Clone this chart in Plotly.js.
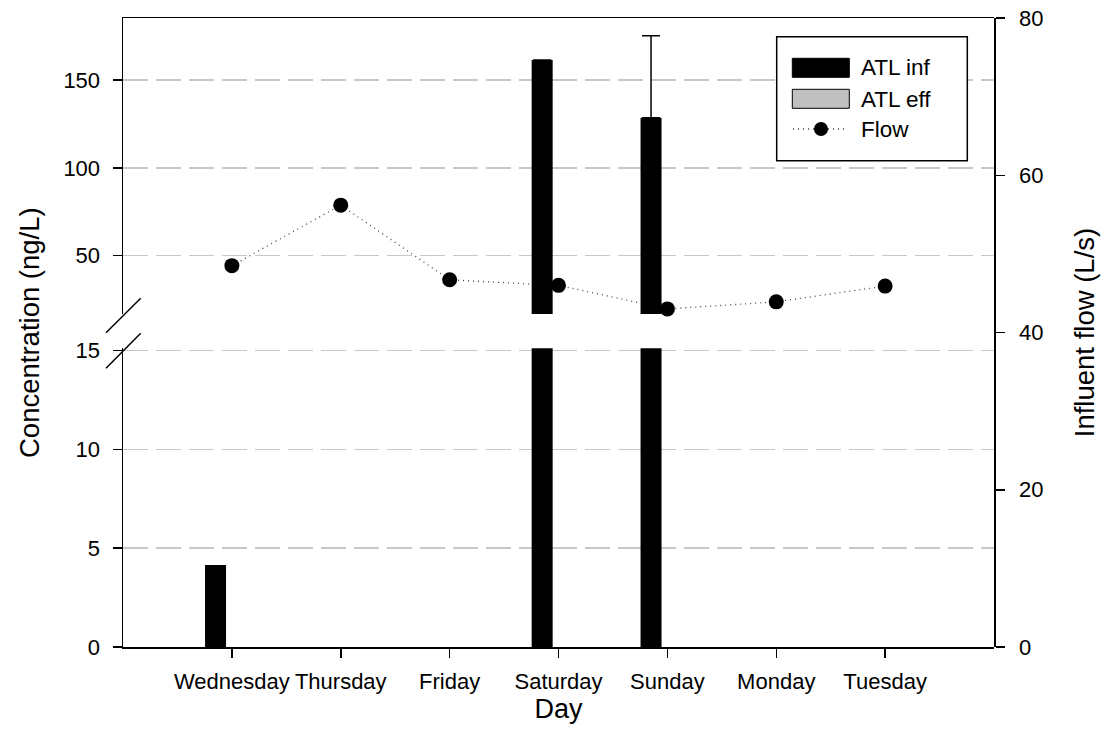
<!DOCTYPE html>
<html><head><meta charset="utf-8">
<script src="https://cdn.plot.ly/plotly-3.0.1.min.js"></script>
<style>html,body{margin:0;padding:0;background:#fff}#chart{width:1108px;height:751px}</style>
</head><body><div id="chart"></div>
<script>
// ---- data ----
const days = ['Wednesday','Thursday','Friday','Saturday','Sunday','Monday','Tuesday'];
const atlInf = [4.15, 0, 0, 161.4, 128.5, 0, 0];          // ng/L
const atlInfErr = [null, null, null, null, 46.7, null, null];
const atlEff = [0, 0, 0, 0, 0, 0, 0];                      // ng/L
const flow = [48.5, 56.2, 46.7, 46.0, 43.0, 43.9, 45.9];   // L/s
const seriesNames = ['ATL inf', 'ATL eff', 'Flow'];
const lowTicks = [0, 5, 10, 15];
const highTicks = [50, 100, 150];
const flowTicks = [0, 20, 40, 60, 80];

// ---- geometry helpers (styling only) ----
const W = 1108, H = 751, M = {l: 123, r: 114, t: 18, b: 104};
const PW = W - M.l - M.r, PH = H - M.t - M.b;
function px(X, Y) { return [(X - M.l) / PW, (H - M.b - Y) / PH]; }

const FONT = 'Liberation Sans, Arial, Helvetica, sans-serif';
const INF_COLOR = '#000000', EFF_COLOR = '#c0c0c0';
const gridStyle = {showgrid: true, gridcolor: '#c8c8c8', gridwidth: 1.5, griddash: '25px,8px'};
const leftAxisStyle = Object.assign({
  showline: true, linecolor: '#000', linewidth: 1.5,
  ticks: 'outside', ticklen: 9, tickwidth: 1.5, tickcolor: '#000',
  tickfont: {size: 22}, ticklabelstandoff: 8, zeroline: false, fixedrange: true
}, gridStyle);

const traces = [
  {type: 'bar', name: seriesNames[0], x: days, y: atlInf, xaxis: 'x', yaxis: 'y',
   marker: {color: INF_COLOR, line: {width: 0}}, showlegend: false, hoverinfo: 'skip'},
  {type: 'bar', name: seriesNames[1], x: days, y: atlEff, xaxis: 'x', yaxis: 'y',
   marker: {color: EFF_COLOR, line: {width: 0}}, showlegend: false, hoverinfo: 'skip'},
  {type: 'bar', name: seriesNames[0], x: days, y: atlInf, xaxis: 'x2', yaxis: 'y2',
   marker: {color: INF_COLOR, line: {width: 0}}, showlegend: false, hoverinfo: 'skip',
   error_y: {type: 'data', symmetric: false, array: atlInfErr, color: '#000', thickness: 1.5, width: 9}},
  {type: 'bar', name: seriesNames[1], x: days, y: atlEff, xaxis: 'x2', yaxis: 'y2',
   marker: {color: EFF_COLOR, line: {width: 0}}, showlegend: false, hoverinfo: 'skip'},
  {type: 'scatter', name: seriesNames[2], x: days, y: flow, xaxis: 'x', yaxis: 'y3',
   mode: 'lines+markers', line: {color: '#444', width: 1.3, dash: '1px,4px'},
   marker: {color: '#000', size: 15}, showlegend: false, hoverinfo: 'skip'}
];

// legend drawn as shapes + text
const box0 = px(776.7, 160.7), box1 = px(967.3, 36.7);
const s1a = px(792.3, 77.3), s1b = px(849.3, 58.3);
const s2a = px(792.3, 108.3), s2b = px(849.3, 89.3);
const fl0 = px(793, 129), fl1 = px(848, 129);
const mk = px(821, 129), mr = [7 / PW, 7 / PH];
const b1a = px(106, 332.7), b1b = px(140.7, 298.3);
const b2a = px(106, 368.3), b2b = px(140.7, 333.3);
const P = {xref: 'paper', yref: 'paper'};
const shapes = [
  Object.assign({type: 'rect', x0: box0[0], y0: box0[1], x1: box1[0], y1: box1[1], fillcolor: '#fff', line: {color: '#000', width: 1.5}}, P),
  Object.assign({type: 'rect', x0: s1a[0], y0: s1a[1], x1: s1b[0], y1: s1b[1], fillcolor: INF_COLOR, line: {color: '#000', width: 1}}, P),
  Object.assign({type: 'rect', x0: s2a[0], y0: s2a[1], x1: s2b[0], y1: s2b[1], fillcolor: EFF_COLOR, line: {color: '#000', width: 1}}, P),
  Object.assign({type: 'line', x0: fl0[0], y0: fl0[1], x1: fl1[0], y1: fl1[1], line: {color: '#444', width: 1.3, dash: '1px,4px'}}, P),
  Object.assign({type: 'circle', x0: mk[0] - mr[0], y0: mk[1] - mr[1], x1: mk[0] + mr[0], y1: mk[1] + mr[1], fillcolor: '#000', line: {color: '#000', width: 0}}, P),
  // axis break marks
  Object.assign({type: 'line', x0: b1a[0], y0: b1a[1], x1: b1b[0], y1: b1b[1], line: {color: '#000', width: 1.5}}, P),
  Object.assign({type: 'line', x0: b2a[0], y0: b2a[1], x1: b2b[0], y1: b2b[1], line: {color: '#000', width: 1.5}}, P)
];
const legTextX = px(859, 0)[0];
const annotations = [
  {text: seriesNames[0], x: legTextX, y: px(0, 68)[1]},
  {text: seriesNames[1], x: legTextX, y: px(0, 99)[1]},
  {text: seriesNames[2], x: legTextX, y: px(0, 129)[1]}
].map(a => Object.assign(a, P, {xanchor: 'left', yanchor: 'middle', showarrow: false, font: {size: 22.5}}));
annotations.push(Object.assign({text: 'Concentration (ng/L)', x: px(29, 0)[0], y: px(0, 333)[1], textangle: -90,
  xanchor: 'center', yanchor: 'middle', showarrow: false, font: {size: 27.5}}, P));

// lower segment: 0 at y=647, 15 at y=350.7; range extended slightly so the 15 grid line is kept
const lowPxPerUnit = (647 - 350.7) / 15;
const lowMax = 15.12;
const lowTop = px(0, 647 - lowMax * lowPxPerUnit)[1], highBot = px(0, 314)[1];

const layout = {
  width: W, height: H, margin: M,
  paper_bgcolor: '#fff', plot_bgcolor: 'rgba(0,0,0,0)',
  font: {family: FONT, color: '#000'},
  barmode: 'group', bargap: 0.4, bargroupgap: 0.357,
  showlegend: false,
  xaxis: {type: 'category', categoryorder: 'array', categoryarray: days, range: [-1, 7], anchor: 'y',
    showline: true, linecolor: '#000', linewidth: 1.5, ticks: 'outside', ticklen: 9, tickwidth: 1.5, tickcolor: '#000',
    tickangle: 0, tickfont: {size: 22}, ticklabelstandoff: 5, showgrid: false, zeroline: false, fixedrange: true,
    title: {text: 'Day', font: {size: 27}, standoff: 1}},
  xaxis2: {type: 'category', categoryorder: 'array', categoryarray: days, range: [-1, 7], anchor: 'y2', side: 'top',
    showline: true, linecolor: '#000', linewidth: 1.5, ticks: '', showticklabels: false, showgrid: false, zeroline: false, fixedrange: true},
  yaxis: Object.assign({}, leftAxisStyle, {domain: [0, lowTop], range: [0, lowMax], tickvals: lowTicks, anchor: 'x'}),
  yaxis2: Object.assign({}, leftAxisStyle, {domain: [highBot, 1], range: [16.8, 185.3], tickvals: highTicks, anchor: 'x2'}),
  yaxis3: {domain: [0, 1], range: [0, 80], tickvals: flowTicks, anchor: 'x', side: 'right',
    showline: true, linecolor: '#000', linewidth: 1.5, ticks: 'outside', ticklen: 9, tickwidth: 1.5, tickcolor: '#000',
    tickfont: {size: 22}, ticklabelstandoff: 10, showgrid: false, zeroline: false, fixedrange: true,
    title: {text: 'Influent flow (L/s)', font: {size: 27.5}, standoff: 32}},
  shapes: shapes,
  annotations: annotations
};

Plotly.newPlot('chart', traces, layout, {staticPlot: true, displayModeBar: false});
</script>
</body></html>
